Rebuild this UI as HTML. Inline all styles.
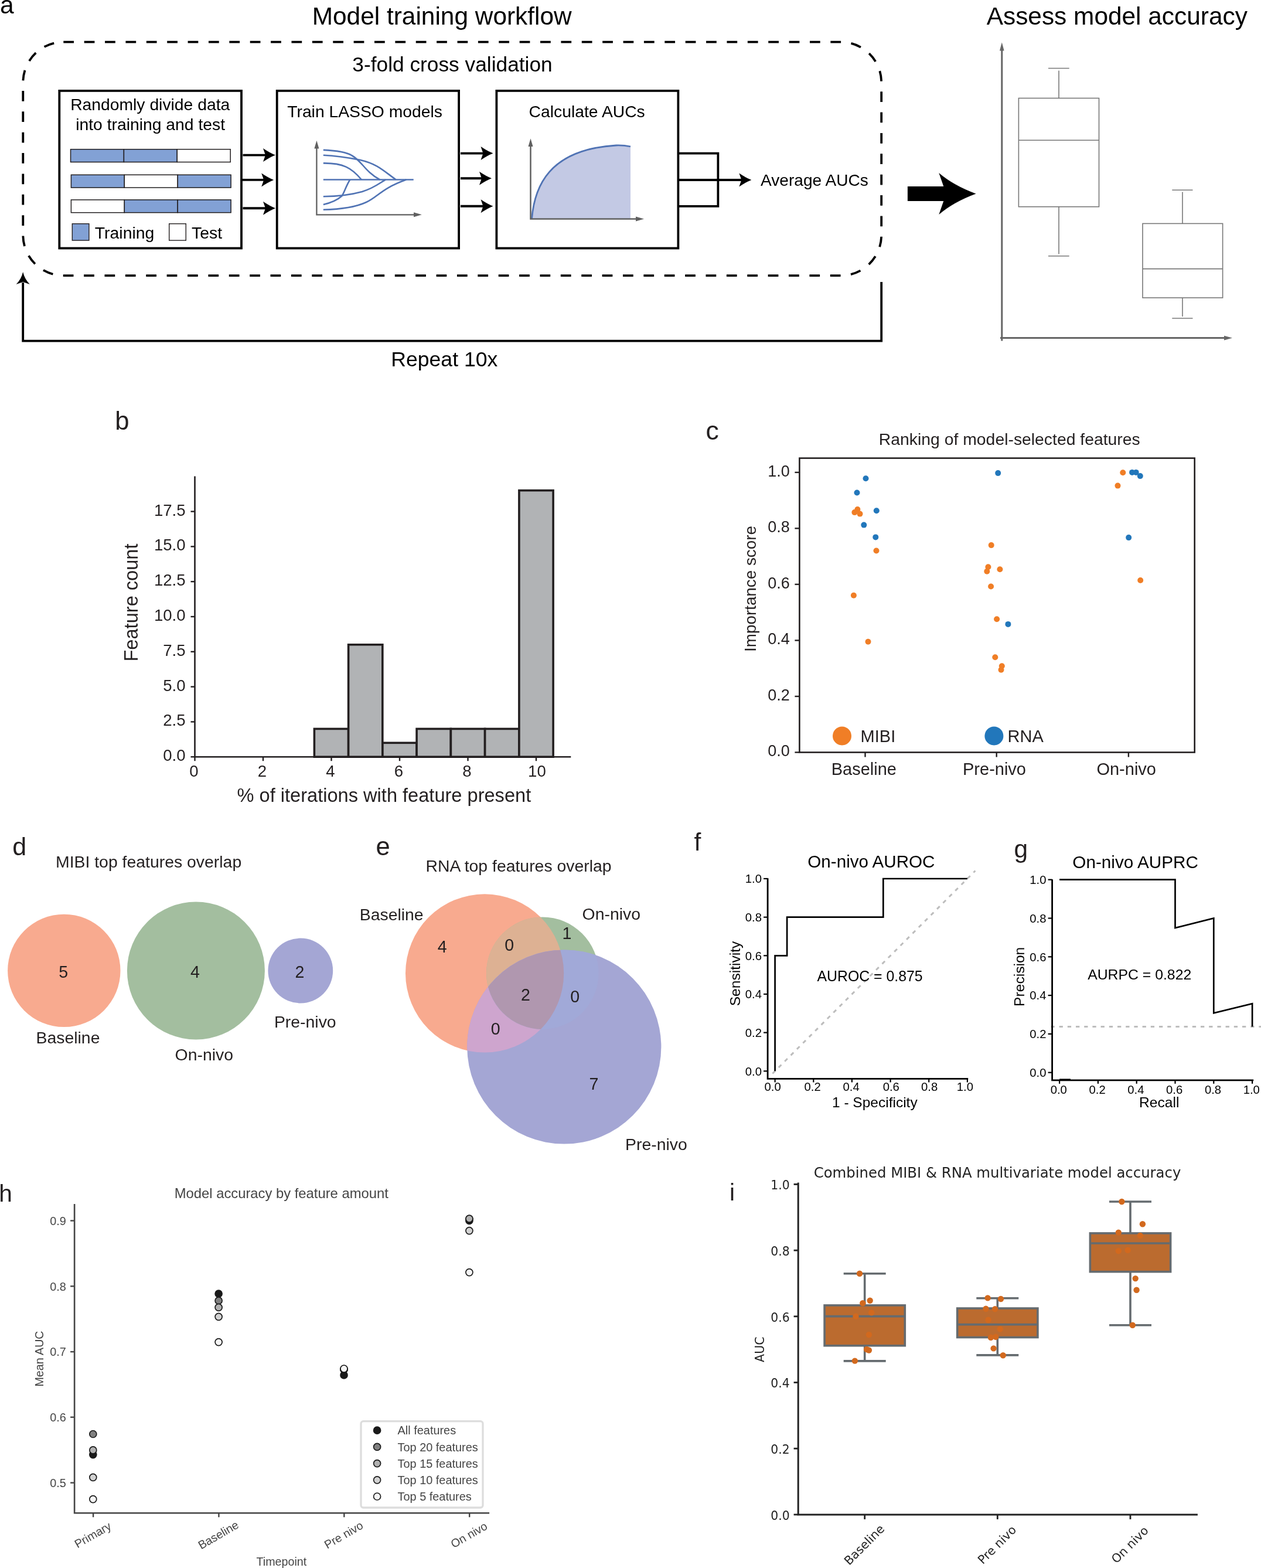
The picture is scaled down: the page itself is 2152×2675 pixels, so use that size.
<!DOCTYPE html>
<html lang="en">
<head>
<meta charset="utf-8">
<title>Model training workflow and accuracy figure</title>
<style>
html, body { margin: 0; padding: 0; background: #ffffff; }
body { width: 2152px; height: 2675px; overflow: hidden; }
svg { display: block; font-family: "Liberation Sans", sans-serif; }
</style>
</head>
<body>
<svg role="img" aria-label="Model training workflow, feature ranking, feature overlap and model accuracy figure" width="2152" height="2675" viewBox="0 0 2152 2675">
<rect width="2152" height="2675" fill="#ffffff"/>
<g id="panel-a">
<text x="0.0" y="23.2" font-size="42.5">a</text>
<text x="754.2" y="42.0" font-size="42.4" text-anchor="middle">Model training workflow</text>
<text x="1906.3" y="42.0" font-size="42.4" text-anchor="middle">Assess model accuracy</text>
<path d="M108.3 71.7 H1435.2 A69 69 0 0 1 1504.2 140.7 V401.1 A69 69 0 0 1 1435.2 470.1 H108.3 A69 69 0 0 1 39.3 401.1 V140.7 A69 69 0 0 1 108.3 71.7Z" fill="none" stroke="#000" stroke-width="3.8" stroke-dasharray="17.75 17.63"/>
<text x="772.0" y="121.5" font-size="35.3" text-anchor="middle">3-fold cross validation</text>
<rect x="101.3" y="154.9" width="310.7" height="268.6" fill="none" stroke="#000" stroke-width="3.8"/>
<rect x="472.7" y="154.9" width="310.4" height="268.6" fill="none" stroke="#000" stroke-width="3.8"/>
<rect x="847.4" y="154.9" width="310.0" height="268.6" fill="none" stroke="#000" stroke-width="3.8"/>
<text x="256.2" y="188.4" font-size="28.3" text-anchor="middle">Randomly divide data</text>
<text x="256.6" y="222.0" font-size="28.3" text-anchor="middle">into training and test</text>
<rect x="120.5" y="254.7" width="90.9" height="21.8" fill="#82a1d5" stroke="#231f20" stroke-width="1.5"/>
<rect x="211.4" y="254.7" width="90.9" height="21.8" fill="#82a1d5" stroke="#231f20" stroke-width="1.5"/>
<rect x="302.3" y="254.7" width="90.9" height="21.8" fill="#fff" stroke="#231f20" stroke-width="1.5"/>
<rect x="121.4" y="298.3" width="90.9" height="21.8" fill="#82a1d5" stroke="#231f20" stroke-width="1.5"/>
<rect x="212.3" y="298.3" width="90.9" height="21.8" fill="#fff" stroke="#231f20" stroke-width="1.5"/>
<rect x="303.2" y="298.3" width="90.9" height="21.8" fill="#82a1d5" stroke="#231f20" stroke-width="1.5"/>
<rect x="121.4" y="340.9" width="90.9" height="21.8" fill="#fff" stroke="#231f20" stroke-width="1.5"/>
<rect x="212.3" y="340.9" width="90.9" height="21.8" fill="#82a1d5" stroke="#231f20" stroke-width="1.5"/>
<rect x="303.2" y="340.9" width="90.9" height="21.8" fill="#82a1d5" stroke="#231f20" stroke-width="1.5"/>
<rect x="123.3" y="381.7" width="28.6" height="28.4" fill="#82a1d5" stroke="#231f20" stroke-width="1.4"/>
<text x="161.8" y="407.4" font-size="28.4">Training</text>
<rect x="288.7" y="381.7" width="28.6" height="28.4" fill="#fff" stroke="#231f20" stroke-width="1.4"/>
<text x="327.0" y="407.4" font-size="28.4">Test</text>
<line x1="414.5" y1="264.6" x2="454.0" y2="264.6" stroke="#000" stroke-width="3.9"/>
<path d="M470.0 264.6 Q460.6 260.9 449.0 253.1 L453.0 264.6 L449.0 276.1 Q460.6 268.3 470.0 264.6Z" fill="#000"/>
<line x1="412.0" y1="306.9" x2="451.2" y2="306.9" stroke="#000" stroke-width="3.9"/>
<path d="M467.2 306.9 Q457.8 303.2 446.2 295.4 L450.2 306.9 L446.2 318.4 Q457.8 310.6 467.2 306.9Z" fill="#000"/>
<line x1="414.5" y1="355.2" x2="454.0" y2="355.2" stroke="#000" stroke-width="3.9"/>
<path d="M470.0 355.2 Q460.6 351.5 449.0 343.7 L453.0 355.2 L449.0 366.7 Q460.6 358.9 470.0 355.2Z" fill="#000"/>
<text x="622.6" y="200.4" font-size="28.3" text-anchor="middle">Train LASSO models</text>
<path d="M540.4 252 V366.3 H706" fill="none" stroke="#606060" stroke-width="2.3"/>
<path d="M540.4 239.8 L544.4 253.5 H536.4Z" fill="#606060"/>
<path d="M719.8 366.3 L706 370.3 V362.3Z" fill="#606060"/>
<path d="M551.8 306.5 H705.7" fill="none" stroke="#5073b4" stroke-width="2.6"/>
<path d="M551.8 255.9 C575 257 592 260 600 265 C618 275 622 292 648.2 306.5" fill="none" stroke="#5073b4" stroke-width="2.6"/>
<path d="M551.8 264.7 C580 266 600 270 615 273 C645 280 655 292 675.7 306.5" fill="none" stroke="#5073b4" stroke-width="2.6"/>
<path d="M551.8 278.4 C585 278 600 286 616.9 306.5" fill="none" stroke="#5073b4" stroke-width="2.6"/>
<path d="M597.3 306.5 C590 318 588 328 583.5 334.3 C575 342 565 346 551.8 349" fill="none" stroke="#5073b4" stroke-width="2.6"/>
<path d="M551.8 335.3 C580 335 600 332 618 327 C640 320 648 312 658 306.5" fill="none" stroke="#5073b4" stroke-width="2.6"/>
<path d="M551.8 357.8 C585 357 610 352 625 345 C645 336 650 322 693.3 306.5" fill="none" stroke="#5073b4" stroke-width="2.6"/>
<line x1="786.0" y1="261.6" x2="825.5" y2="261.6" stroke="#000" stroke-width="3.9"/>
<path d="M841.5 261.6 Q832.0 257.9 820.5 250.1 L824.5 261.6 L820.5 273.1 Q832.0 265.3 841.5 261.6Z" fill="#000"/>
<line x1="786.0" y1="304.3" x2="823.0" y2="304.3" stroke="#000" stroke-width="3.9"/>
<path d="M839.0 304.3 Q829.5 300.6 818.0 292.8 L822.0 304.3 L818.0 315.8 Q829.5 308.0 839.0 304.3Z" fill="#000"/>
<line x1="786.0" y1="351.8" x2="825.5" y2="351.8" stroke="#000" stroke-width="3.9"/>
<path d="M841.5 351.8 Q832.0 348.1 820.5 340.3 L824.5 351.8 L820.5 363.3 Q832.0 355.5 841.5 351.8Z" fill="#000"/>
<text x="1001.7" y="200.4" font-size="28.3" text-anchor="middle">Calculate AUCs</text>
<path d="M907.5 373.5 C912 320 935 255 1051.6 248 Q1064 247.6 1076 250 V373.5Z" fill="#c3c9e4"/>
<path d="M907.5 373.5 C912 320 935 255 1051.6 248 Q1064 247.6 1076 250" fill="none" stroke="#5073b4" stroke-width="2.8"/>
<path d="M905.5 249 V373.5 H1086" fill="none" stroke="#606060" stroke-width="2.5"/>
<path d="M905.5 236.3 L909.5 250 H901.5Z" fill="#606060"/>
<path d="M1099 373.5 L1085 377.5 V369.5Z" fill="#606060"/>
<path d="M1157.4 261.6 H1225.4 V351.8 H1157.4" fill="none" stroke="#000" stroke-width="3.8"/>
<line x1="1157.4" y1="307.0" x2="1266.4" y2="307.0" stroke="#000" stroke-width="3.9"/>
<path d="M1282.4 307.0 Q1273.0 303.3 1261.4 295.5 L1265.4 307.0 L1261.4 318.5 Q1273.0 310.7 1282.4 307.0Z" fill="#000"/>
<text x="1389.9" y="316.7" font-size="28.1" text-anchor="middle">Average AUCs</text>
<path d="M1504.2 481 V581.6 H39.2 V482" fill="none" stroke="#000" stroke-width="3.8"/>
<path d="M39.2 464 Q42 476 50.7 485 L39.2 481 L27.7 485 Q36.4 476 39.2 464Z" fill="#000"/>
<text x="758.3" y="625.0" font-size="35.6" text-anchor="middle">Repeat 10x</text>
<path d="M1548.9 318 H1610.3 L1602.3 294.9 Q1626.9 316.1 1665.6 330.4 Q1626.9 344.7 1602.3 366 L1610.3 342.9 H1548.9Z" fill="#000"/>
<path d="M1709.8 86 V581.6" fill="none" stroke="#666" stroke-width="3"/>
<path d="M1709.8 72.3 L1713.6 86.5 H1706Z" fill="#666"/>
<path d="M1707 576.6 H2090" fill="none" stroke="#666" stroke-width="3"/>
<path d="M2103 576.6 L2089 580.4 V572.8Z" fill="#666"/>
<rect x="1738.4" y="167.5" width="137.1" height="185.2" fill="none" stroke="#777" stroke-width="1.6"/>
<line x1="1738.4" y1="239.2" x2="1875.5" y2="239.2" stroke="#777" stroke-width="1.6"/>
<line x1="1807.0" y1="120.5" x2="1807.0" y2="167.5" stroke="#777" stroke-width="1.6"/>
<line x1="1789.0" y1="116.5" x2="1824.7" y2="116.5" stroke="#777" stroke-width="1.6"/>
<line x1="1807.0" y1="352.7" x2="1807.0" y2="433.5" stroke="#777" stroke-width="1.6"/>
<line x1="1789.0" y1="436.8" x2="1824.7" y2="436.8" stroke="#777" stroke-width="1.6"/>
<rect x="1950.0" y="381.4" width="136.6" height="126.6" fill="none" stroke="#777" stroke-width="1.6"/>
<line x1="1950.0" y1="458.6" x2="2086.6" y2="458.6" stroke="#777" stroke-width="1.6"/>
<line x1="2018.0" y1="327.5" x2="2018.0" y2="381.4" stroke="#777" stroke-width="1.6"/>
<line x1="2000.3" y1="324.2" x2="2035.5" y2="324.2" stroke="#777" stroke-width="1.6"/>
<line x1="2018.0" y1="508.0" x2="2018.0" y2="540.0" stroke="#777" stroke-width="1.6"/>
<line x1="2000.3" y1="543.0" x2="2035.5" y2="543.0" stroke="#777" stroke-width="1.6"/>
</g>
<g id="panel-b">
<text x="196.3" y="733.2" font-size="43.6" fill="#231f20">b</text>
<rect x="536.4" y="1243.4" width="58.2" height="47.8" fill="#b1b3b5" stroke="#231f20" stroke-width="3.6"/>
<rect x="594.6" y="1099.8" width="58.2" height="191.4" fill="#b1b3b5" stroke="#231f20" stroke-width="3.6"/>
<rect x="652.9" y="1267.3" width="58.2" height="23.9" fill="#b1b3b5" stroke="#231f20" stroke-width="3.6"/>
<rect x="711.1" y="1243.4" width="58.2" height="47.8" fill="#b1b3b5" stroke="#231f20" stroke-width="3.6"/>
<rect x="769.4" y="1243.4" width="58.2" height="47.8" fill="#b1b3b5" stroke="#231f20" stroke-width="3.6"/>
<rect x="827.6" y="1243.4" width="58.2" height="47.8" fill="#b1b3b5" stroke="#231f20" stroke-width="3.6"/>
<rect x="885.9" y="836.7" width="58.2" height="454.5" fill="#b1b3b5" stroke="#231f20" stroke-width="3.6"/>
<path d="M332.5 812.6 V1291.2 H974.3" fill="none" stroke="#231f20" stroke-width="2.6" stroke-linejoin="miter"/>
<line x1="325.5" y1="1291.2" x2="332.5" y2="1291.2" stroke="#231f20" stroke-width="2.4"/>
<text x="316.6" y="1298.1" font-size="27.6" text-anchor="end" fill="#231f20">0.0</text>
<line x1="325.5" y1="1231.4" x2="332.5" y2="1231.4" stroke="#231f20" stroke-width="2.4"/>
<text x="316.6" y="1238.3" font-size="27.6" text-anchor="end" fill="#231f20">2.5</text>
<line x1="325.5" y1="1171.6" x2="332.5" y2="1171.6" stroke="#231f20" stroke-width="2.4"/>
<text x="316.6" y="1178.5" font-size="27.6" text-anchor="end" fill="#231f20">5.0</text>
<line x1="325.5" y1="1111.8" x2="332.5" y2="1111.8" stroke="#231f20" stroke-width="2.4"/>
<text x="316.6" y="1118.7" font-size="27.6" text-anchor="end" fill="#231f20">7.5</text>
<line x1="325.5" y1="1052.0" x2="332.5" y2="1052.0" stroke="#231f20" stroke-width="2.4"/>
<text x="316.6" y="1058.9" font-size="27.6" text-anchor="end" fill="#231f20">10.0</text>
<line x1="325.5" y1="992.2" x2="332.5" y2="992.2" stroke="#231f20" stroke-width="2.4"/>
<text x="316.6" y="999.1" font-size="27.6" text-anchor="end" fill="#231f20">12.5</text>
<line x1="325.5" y1="932.4" x2="332.5" y2="932.4" stroke="#231f20" stroke-width="2.4"/>
<text x="316.6" y="939.3" font-size="27.6" text-anchor="end" fill="#231f20">15.0</text>
<line x1="325.5" y1="872.6" x2="332.5" y2="872.6" stroke="#231f20" stroke-width="2.4"/>
<text x="316.6" y="879.5" font-size="27.6" text-anchor="end" fill="#231f20">17.5</text>
<line x1="332.5" y1="1291.2" x2="332.5" y2="1298.2" stroke="#231f20" stroke-width="2.4"/>
<text x="331.0" y="1324.8" font-size="27.6" text-anchor="middle" fill="#231f20">0</text>
<line x1="449.0" y1="1291.2" x2="449.0" y2="1298.2" stroke="#231f20" stroke-width="2.4"/>
<text x="447.5" y="1324.8" font-size="27.6" text-anchor="middle" fill="#231f20">2</text>
<line x1="565.5" y1="1291.2" x2="565.5" y2="1298.2" stroke="#231f20" stroke-width="2.4"/>
<text x="564.0" y="1324.8" font-size="27.6" text-anchor="middle" fill="#231f20">4</text>
<line x1="682.0" y1="1291.2" x2="682.0" y2="1298.2" stroke="#231f20" stroke-width="2.4"/>
<text x="680.5" y="1324.8" font-size="27.6" text-anchor="middle" fill="#231f20">6</text>
<line x1="798.5" y1="1291.2" x2="798.5" y2="1298.2" stroke="#231f20" stroke-width="2.4"/>
<text x="797.0" y="1324.8" font-size="27.6" text-anchor="middle" fill="#231f20">8</text>
<line x1="915.0" y1="1291.2" x2="915.0" y2="1298.2" stroke="#231f20" stroke-width="2.4"/>
<text x="916.4" y="1324.8" font-size="27.6" text-anchor="middle" fill="#231f20">10</text>
<text x="655.4" y="1367.5" font-size="32.6" text-anchor="middle" fill="#231f20">% of iterations with feature present</text>
<text x="234.7" y="1028.0" font-size="32.6" text-anchor="middle" fill="#231f20" transform="rotate(-90 234.7 1028.0)">Feature count</text>
</g>
<g id="panel-c">
<text x="1204.6" y="750.0" font-size="44.5" fill="#231f20">c</text>
<text x="1722.8" y="759.2" font-size="28.35" text-anchor="middle" fill="#231f20">Ranking of model-selected features</text>
<rect x="1364.4" y="781.6" width="674.3" height="501.9" fill="none" stroke="#231f20" stroke-width="2.6"/>
<line x1="1356.4" y1="1283.5" x2="1364.4" y2="1283.5" stroke="#231f20" stroke-width="2.4"/>
<text x="1347.8" y="1290.4" font-size="27" text-anchor="end" fill="#231f20">0.0</text>
<line x1="1356.4" y1="1188.0" x2="1364.4" y2="1188.0" stroke="#231f20" stroke-width="2.4"/>
<text x="1347.8" y="1194.9" font-size="27" text-anchor="end" fill="#231f20">0.2</text>
<line x1="1356.4" y1="1092.5" x2="1364.4" y2="1092.5" stroke="#231f20" stroke-width="2.4"/>
<text x="1347.8" y="1099.4" font-size="27" text-anchor="end" fill="#231f20">0.4</text>
<line x1="1356.4" y1="996.9" x2="1364.4" y2="996.9" stroke="#231f20" stroke-width="2.4"/>
<text x="1347.8" y="1003.8" font-size="27" text-anchor="end" fill="#231f20">0.6</text>
<line x1="1356.4" y1="901.4" x2="1364.4" y2="901.4" stroke="#231f20" stroke-width="2.4"/>
<text x="1347.8" y="908.3" font-size="27" text-anchor="end" fill="#231f20">0.8</text>
<line x1="1356.4" y1="805.9" x2="1364.4" y2="805.9" stroke="#231f20" stroke-width="2.4"/>
<text x="1347.8" y="812.8" font-size="27" text-anchor="end" fill="#231f20">1.0</text>
<line x1="1476.5" y1="1283.5" x2="1476.5" y2="1291.5" stroke="#231f20" stroke-width="2.4"/>
<text x="1474.3" y="1321.8" font-size="29" text-anchor="middle" fill="#231f20">Baseline</text>
<line x1="1700.7" y1="1283.5" x2="1700.7" y2="1291.5" stroke="#231f20" stroke-width="2.4"/>
<text x="1697.0" y="1321.8" font-size="29" text-anchor="middle" fill="#231f20">Pre-nivo</text>
<line x1="1925.9" y1="1283.5" x2="1925.9" y2="1291.5" stroke="#231f20" stroke-width="2.4"/>
<text x="1922.2" y="1321.8" font-size="29" text-anchor="middle" fill="#231f20">On-nivo</text>
<text x="1290.3" y="1004.5" font-size="27.8" text-anchor="middle" fill="#231f20" transform="rotate(-90 1290.3 1004.5)">Importance score</text>
<circle cx="1477.5" cy="816.2" r="5" fill="#2277bb"/>
<circle cx="1462.5" cy="840.5" r="5" fill="#2277bb"/>
<circle cx="1463.4" cy="869.1" r="5" fill="#f07e26"/>
<circle cx="1458.4" cy="874.1" r="5" fill="#f07e26"/>
<circle cx="1467.5" cy="876.6" r="5" fill="#f07e26"/>
<circle cx="1495.8" cy="871.3" r="5" fill="#2277bb"/>
<circle cx="1474.3" cy="895.6" r="5" fill="#2277bb"/>
<circle cx="1494.3" cy="916.4" r="5" fill="#2277bb"/>
<circle cx="1495.5" cy="939.5" r="5" fill="#f07e26"/>
<circle cx="1456.9" cy="1015.8" r="5" fill="#f07e26"/>
<circle cx="1481.5" cy="1094.8" r="5" fill="#f07e26"/>
<circle cx="1703.2" cy="807.1" r="5" fill="#2277bb"/>
<circle cx="1691.7" cy="930.1" r="5" fill="#f07e26"/>
<circle cx="1686.4" cy="967.2" r="5" fill="#f07e26"/>
<circle cx="1684.3" cy="974.7" r="5" fill="#f07e26"/>
<circle cx="1706.4" cy="971.3" r="5" fill="#f07e26"/>
<circle cx="1691.1" cy="1000.5" r="5" fill="#f07e26"/>
<circle cx="1701.1" cy="1056.2" r="5" fill="#f07e26"/>
<circle cx="1720.4" cy="1064.9" r="5" fill="#2277bb"/>
<circle cx="1698.3" cy="1121.3" r="5" fill="#f07e26"/>
<circle cx="1709.8" cy="1136.2" r="5" fill="#f07e26"/>
<circle cx="1708.5" cy="1142.8" r="5" fill="#f07e26"/>
<circle cx="1916.3" cy="806.2" r="5" fill="#f07e26"/>
<circle cx="1932.1" cy="805.9" r="5" fill="#2277bb"/>
<circle cx="1938.7" cy="805.9" r="5" fill="#2277bb"/>
<circle cx="1945.8" cy="812.1" r="5" fill="#2277bb"/>
<circle cx="1907.5" cy="828.6" r="5" fill="#f07e26"/>
<circle cx="1926.2" cy="917.1" r="5" fill="#2277bb"/>
<circle cx="1946.2" cy="990.0" r="5" fill="#f07e26"/>
<circle cx="1437.0" cy="1255.5" r="16" fill="#f07e26"/>
<text x="1468.6" y="1265.8" font-size="29" fill="#231f20">MIBI</text>
<circle cx="1696.4" cy="1255.5" r="16" fill="#2277bb"/>
<text x="1719.6" y="1265.8" font-size="29" fill="#231f20">RNA</text>
</g>
<g id="panel-d">
<text x="21.2" y="1459.0" font-size="43" fill="#231f20">d</text>
<text x="253.6" y="1480.3" font-size="28.4" text-anchor="middle" fill="#231f20">MIBI top features overlap</text>
<circle cx="109.3" cy="1655.9" r="96.2" fill="#f8aa8f"/>
<circle cx="334.4" cy="1656.0" r="117.5" fill="#a3be9f"/>
<circle cx="512.8" cy="1656.0" r="55.4" fill="#a4a6d4"/>
<text x="108.3" y="1668.2" font-size="28.6" text-anchor="middle" fill="#231f20">5</text>
<text x="332.9" y="1668.2" font-size="28.6" text-anchor="middle" fill="#231f20">4</text>
<text x="511.4" y="1668.2" font-size="28.6" text-anchor="middle" fill="#231f20">2</text>
<text x="116.0" y="1780.0" font-size="28.4" text-anchor="middle" fill="#231f20">Baseline</text>
<text x="348.3" y="1809.3" font-size="28.4" text-anchor="middle" fill="#231f20">On-nivo</text>
<text x="520.8" y="1753.0" font-size="28.4" text-anchor="middle" fill="#231f20">Pre-nivo</text>
</g>
<g id="panel-e">
<text x="641.5" y="1459.0" font-size="43.5" fill="#231f20">e</text>
<text x="885.0" y="1486.5" font-size="28.4" text-anchor="middle" fill="#231f20">RNA top features overlap</text>
<defs><clipPath id="cA"><circle cx="827.1" cy="1660.4" r="135.1"/></clipPath><clipPath id="cG"><circle cx="925.8" cy="1660.2" r="95.7"/></clipPath><clipPath id="cP"><circle cx="962.8" cy="1786" r="165.6"/></clipPath></defs>
<circle cx="827.1" cy="1660.4" r="135.1" fill="#f8aa8f"/>
<circle cx="925.8" cy="1660.2" r="95.7" fill="#a3be9f"/>
<circle cx="962.8" cy="1786.0" r="165.6" fill="#a4a6d4"/>
<circle cx="925.8" cy="1660.2" r="95.7" fill="#ddb193" clip-path="url(#cA)"/>
<circle cx="962.8" cy="1786.0" r="165.6" fill="#cea5ce" clip-path="url(#cA)"/>
<circle cx="962.8" cy="1786.0" r="165.6" fill="#a1a9d8" clip-path="url(#cG)"/>
<g clip-path="url(#cA)"><circle cx="962.8" cy="1786.0" r="165.6" fill="#b097af" clip-path="url(#cG)"/></g>
<text x="754.7" y="1625.0" font-size="28.6" text-anchor="middle" fill="#231f20">4</text>
<text x="869.2" y="1621.5" font-size="28.6" text-anchor="middle" fill="#231f20">0</text>
<text x="967.5" y="1602.4" font-size="28.6" text-anchor="middle" fill="#231f20">1</text>
<text x="896.9" y="1707.0" font-size="28.6" text-anchor="middle" fill="#231f20">2</text>
<text x="981.3" y="1709.7" font-size="28.6" text-anchor="middle" fill="#231f20">0</text>
<text x="845.7" y="1765.0" font-size="28.6" text-anchor="middle" fill="#231f20">0</text>
<text x="1013.5" y="1859.2" font-size="28.6" text-anchor="middle" fill="#231f20">7</text>
<text x="668.2" y="1570.2" font-size="28.4" text-anchor="middle" fill="#231f20">Baseline</text>
<text x="1043.3" y="1568.5" font-size="28.4" text-anchor="middle" fill="#231f20">On-nivo</text>
<text x="1119.9" y="1962.3" font-size="28.4" text-anchor="middle" fill="#231f20">Pre-nivo</text>
</g>
<g id="panel-f">
<text x="1184.5" y="1451.1" font-size="42.5" fill="#231f20">f</text>
<text x="1486.9" y="1480.2" font-size="29.6" text-anchor="middle">On-nivo AUROC</text>
<path d="M1318.4 1831.5 L1664.4 1485.5" fill="none" stroke="#bdbdbd" stroke-width="3" stroke-dasharray="6.6 8.1"/>
<path d="M1310.1 1498.3 V1840.4 H1652.2" fill="none" stroke="#000" stroke-width="2.8"/>
<line x1="1303.1" y1="1827.3" x2="1310.1" y2="1827.3" stroke="#000" stroke-width="2.2"/>
<text x="1300.0" y="1834.6" font-size="20.3" text-anchor="end">0.0</text>
<line x1="1322.6" y1="1840.4" x2="1322.6" y2="1846.4" stroke="#000" stroke-width="2.2"/>
<text x="1318.6" y="1860.7" font-size="20.3" text-anchor="middle">0.0</text>
<line x1="1303.1" y1="1761.6" x2="1310.1" y2="1761.6" stroke="#000" stroke-width="2.2"/>
<text x="1300.0" y="1768.9" font-size="20.3" text-anchor="end">0.2</text>
<line x1="1388.3" y1="1840.4" x2="1388.3" y2="1846.4" stroke="#000" stroke-width="2.2"/>
<text x="1386.7" y="1860.7" font-size="20.3" text-anchor="middle">0.2</text>
<line x1="1303.1" y1="1696.0" x2="1310.1" y2="1696.0" stroke="#000" stroke-width="2.2"/>
<text x="1300.0" y="1703.3" font-size="20.3" text-anchor="end">0.4</text>
<line x1="1453.9" y1="1840.4" x2="1453.9" y2="1846.4" stroke="#000" stroke-width="2.2"/>
<text x="1452.7" y="1860.7" font-size="20.3" text-anchor="middle">0.4</text>
<line x1="1303.1" y1="1630.3" x2="1310.1" y2="1630.3" stroke="#000" stroke-width="2.2"/>
<text x="1300.0" y="1637.6" font-size="20.3" text-anchor="end">0.6</text>
<line x1="1519.6" y1="1840.4" x2="1519.6" y2="1846.4" stroke="#000" stroke-width="2.2"/>
<text x="1520.8" y="1860.7" font-size="20.3" text-anchor="middle">0.6</text>
<line x1="1303.1" y1="1564.7" x2="1310.1" y2="1564.7" stroke="#000" stroke-width="2.2"/>
<text x="1300.0" y="1572.0" font-size="20.3" text-anchor="end">0.8</text>
<line x1="1585.2" y1="1840.4" x2="1585.2" y2="1846.4" stroke="#000" stroke-width="2.2"/>
<text x="1586.2" y="1860.7" font-size="20.3" text-anchor="middle">0.8</text>
<line x1="1303.1" y1="1499.0" x2="1310.1" y2="1499.0" stroke="#000" stroke-width="2.2"/>
<text x="1300.0" y="1506.3" font-size="20.3" text-anchor="end">1.0</text>
<line x1="1650.9" y1="1840.4" x2="1650.9" y2="1846.4" stroke="#000" stroke-width="2.2"/>
<text x="1646.9" y="1860.7" font-size="20.3" text-anchor="middle">1.0</text>
<path d="M1322.6 1827.3 L1322.6 1630.3 L1343.1 1630.3 L1343.1 1564.7 L1507.3 1564.7 L1507.3 1499.0 L1650.9 1499.0" fill="none" stroke="#000" stroke-width="2.7" stroke-linejoin="miter"/>
<text x="1484.6" y="1673.8" font-size="24.85" text-anchor="middle">AUROC = 0.875</text>
<text x="1492.8" y="1888.7" font-size="24.5" text-anchor="middle">1 - Specificity</text>
<text x="1262.8" y="1661.0" font-size="24.6" text-anchor="middle" transform="rotate(-90 1262.8 1661.0)">Sensitivity</text>
</g>
<g id="panel-g">
<text x="1730.5" y="1462.6" font-size="42.5" fill="#231f20">g</text>
<text x="1937.6" y="1480.8" font-size="29.7" text-anchor="middle">On-nivo AUPRC</text>
<path d="M1793.3999999999999 1751.4 H2152" fill="none" stroke="#bdbdbd" stroke-width="3" stroke-dasharray="6.3 7.9"/>
<path d="M1795.6 1500.3 V1842.8 H2139.2" fill="none" stroke="#000" stroke-width="2.8"/>
<line x1="1788.6" y1="1829.7" x2="1795.6" y2="1829.7" stroke="#000" stroke-width="2.2"/>
<text x="1785.5" y="1837.0" font-size="20.3" text-anchor="end">0.0</text>
<line x1="1808.1" y1="1842.8" x2="1808.1" y2="1848.8" stroke="#000" stroke-width="2.2"/>
<text x="1806.8" y="1865.5" font-size="20.3" text-anchor="middle">0.0</text>
<line x1="1788.6" y1="1763.9" x2="1795.6" y2="1763.9" stroke="#000" stroke-width="2.2"/>
<text x="1785.5" y="1771.2" font-size="20.3" text-anchor="end">0.2</text>
<line x1="1873.9" y1="1842.8" x2="1873.9" y2="1848.8" stroke="#000" stroke-width="2.2"/>
<text x="1872.6" y="1865.5" font-size="20.3" text-anchor="middle">0.2</text>
<line x1="1788.6" y1="1698.1" x2="1795.6" y2="1698.1" stroke="#000" stroke-width="2.2"/>
<text x="1785.5" y="1705.4" font-size="20.3" text-anchor="end">0.4</text>
<line x1="1939.7" y1="1842.8" x2="1939.7" y2="1848.8" stroke="#000" stroke-width="2.2"/>
<text x="1938.4" y="1865.5" font-size="20.3" text-anchor="middle">0.4</text>
<line x1="1788.6" y1="1632.3" x2="1795.6" y2="1632.3" stroke="#000" stroke-width="2.2"/>
<text x="1785.5" y="1639.6" font-size="20.3" text-anchor="end">0.6</text>
<line x1="2005.5" y1="1842.8" x2="2005.5" y2="1848.8" stroke="#000" stroke-width="2.2"/>
<text x="2004.2" y="1865.5" font-size="20.3" text-anchor="middle">0.6</text>
<line x1="1788.6" y1="1566.5" x2="1795.6" y2="1566.5" stroke="#000" stroke-width="2.2"/>
<text x="1785.5" y="1573.8" font-size="20.3" text-anchor="end">0.8</text>
<line x1="2071.3" y1="1842.8" x2="2071.3" y2="1848.8" stroke="#000" stroke-width="2.2"/>
<text x="2070.0" y="1865.5" font-size="20.3" text-anchor="middle">0.8</text>
<line x1="1788.6" y1="1500.7" x2="1795.6" y2="1500.7" stroke="#000" stroke-width="2.2"/>
<text x="1785.5" y="1508.0" font-size="20.3" text-anchor="end">1.0</text>
<line x1="2137.1" y1="1842.8" x2="2137.1" y2="1848.8" stroke="#000" stroke-width="2.2"/>
<text x="2135.8" y="1865.5" font-size="20.3" text-anchor="middle">1.0</text>
<path d="M1808.1 1500.7 L2005.5 1500.7 L2005.5 1583.0 L2071.3 1566.5 L2071.3 1728.4 L2137.1 1712.2 L2137.1 1751.4" fill="none" stroke="#000" stroke-width="2.7" stroke-linejoin="miter"/>
<path d="M1808.1 1841.6 H1827" fill="none" stroke="#000" stroke-width="2.4"/>
<text x="1944.7" y="1671.1" font-size="24.8" text-anchor="middle">AURPC = 0.822</text>
<text x="1978.2" y="1888.8" font-size="24.6" text-anchor="middle">Recall</text>
<text x="1748.5" y="1666.3" font-size="24.6" text-anchor="middle" transform="rotate(-90 1748.5 1666.3)">Precision</text>
</g>
<g id="panel-h">
<text x="-1.8" y="2049.7" font-size="40.6" fill="#231f20">h</text>
<text x="480.3" y="2043.6" font-size="23.8" text-anchor="middle" fill="#444">Model accuracy by feature amount</text>
<path d="M127.1 2055.4 V2581.3 H833.8" fill="none" stroke="#444" stroke-width="2.6" stroke-linecap="square"/>
<line x1="120.1" y1="2082.5" x2="127.1" y2="2082.5" stroke="#444" stroke-width="2.4"/>
<g transform="translate(112.8 2089.7) scale(0.975 1)"><text x="0.0" y="0.0" font-size="20.3" text-anchor="end" fill="#444">0.9</text></g>
<line x1="120.1" y1="2194.3" x2="127.1" y2="2194.3" stroke="#444" stroke-width="2.4"/>
<g transform="translate(112.8 2201.5) scale(0.975 1)"><text x="0.0" y="0.0" font-size="20.3" text-anchor="end" fill="#444">0.8</text></g>
<line x1="120.1" y1="2306.1" x2="127.1" y2="2306.1" stroke="#444" stroke-width="2.4"/>
<g transform="translate(112.8 2313.3) scale(0.975 1)"><text x="0.0" y="0.0" font-size="20.3" text-anchor="end" fill="#444">0.7</text></g>
<line x1="120.1" y1="2417.7" x2="127.1" y2="2417.7" stroke="#444" stroke-width="2.4"/>
<g transform="translate(112.8 2424.9) scale(0.975 1)"><text x="0.0" y="0.0" font-size="20.3" text-anchor="end" fill="#444">0.6</text></g>
<line x1="120.1" y1="2529.6" x2="127.1" y2="2529.6" stroke="#444" stroke-width="2.4"/>
<g transform="translate(112.8 2536.8) scale(0.975 1)"><text x="0.0" y="0.0" font-size="20.3" text-anchor="end" fill="#444">0.5</text></g>
<line x1="159.1" y1="2581.3" x2="159.1" y2="2588.3" stroke="#444" stroke-width="2.4"/>
<text x="161.7" y="2624.5" font-size="19.8" text-anchor="middle" fill="#444" transform="rotate(-30 161.7 2624.5)">Primary</text>
<line x1="373.4" y1="2581.3" x2="373.4" y2="2588.3" stroke="#444" stroke-width="2.4"/>
<text x="376.0" y="2624.5" font-size="19.8" text-anchor="middle" fill="#444" transform="rotate(-30 376.0 2624.5)">Baseline</text>
<line x1="587.3" y1="2581.3" x2="587.3" y2="2588.3" stroke="#444" stroke-width="2.4"/>
<text x="589.9" y="2624.5" font-size="19.8" text-anchor="middle" fill="#444" transform="rotate(-30 589.9 2624.5)">Pre nivo</text>
<line x1="801.2" y1="2581.3" x2="801.2" y2="2588.3" stroke="#444" stroke-width="2.4"/>
<text x="803.8" y="2624.5" font-size="19.8" text-anchor="middle" fill="#444" transform="rotate(-30 803.8 2624.5)">On nivo</text>
<text x="480.4" y="2671.3" font-size="19.7" text-anchor="middle" fill="#444">Timepoint</text>
<text x="74.1" y="2318.0" font-size="19.7" text-anchor="middle" fill="#444" transform="rotate(-90 74.1 2318.0)">Mean AUC</text>
<circle cx="158.8" cy="2481.6" r="6" fill="#1a1a1a" stroke="#1a1a1a" stroke-width="1.7"/>
<circle cx="373.1" cy="2207.1" r="6" fill="#1a1a1a" stroke="#1a1a1a" stroke-width="1.7"/>
<circle cx="587.0" cy="2345.9" r="6" fill="#1a1a1a" stroke="#1a1a1a" stroke-width="1.7"/>
<circle cx="800.9" cy="2082.5" r="6" fill="#1a1a1a" stroke="#1a1a1a" stroke-width="1.7"/>
<circle cx="158.8" cy="2446.5" r="6" fill="#808080" stroke="#1a1a1a" stroke-width="1.7"/>
<circle cx="373.1" cy="2218.9" r="6" fill="#808080" stroke="#1a1a1a" stroke-width="1.7"/>
<circle cx="587.0" cy="2336.5" r="6" fill="#808080" stroke="#1a1a1a" stroke-width="1.7"/>
<circle cx="800.9" cy="2079.5" r="6" fill="#808080" stroke="#1a1a1a" stroke-width="1.7"/>
<circle cx="158.8" cy="2473.9" r="6" fill="#b0b0b0" stroke="#1a1a1a" stroke-width="1.7"/>
<circle cx="373.1" cy="2230.4" r="6" fill="#b0b0b0" stroke="#1a1a1a" stroke-width="1.7"/>
<circle cx="587.0" cy="2336.0" r="6" fill="#b0b0b0" stroke="#1a1a1a" stroke-width="1.7"/>
<circle cx="800.9" cy="2079.1" r="6" fill="#b0b0b0" stroke="#1a1a1a" stroke-width="1.7"/>
<circle cx="158.8" cy="2520.3" r="6" fill="#d2d2d2" stroke="#1a1a1a" stroke-width="1.7"/>
<circle cx="373.1" cy="2246.3" r="6" fill="#d2d2d2" stroke="#1a1a1a" stroke-width="1.7"/>
<circle cx="587.0" cy="2335.5" r="6" fill="#d2d2d2" stroke="#1a1a1a" stroke-width="1.7"/>
<circle cx="800.9" cy="2099.6" r="6" fill="#d2d2d2" stroke="#1a1a1a" stroke-width="1.7"/>
<circle cx="158.8" cy="2557.6" r="6" fill="#f6f6f6" stroke="#1a1a1a" stroke-width="1.7"/>
<circle cx="373.1" cy="2289.6" r="6" fill="#f6f6f6" stroke="#1a1a1a" stroke-width="1.7"/>
<circle cx="587.0" cy="2335.0" r="6" fill="#f6f6f6" stroke="#1a1a1a" stroke-width="1.7"/>
<circle cx="800.9" cy="2170.6" r="6" fill="#f6f6f6" stroke="#1a1a1a" stroke-width="1.7"/>
<rect x="616" y="2424.7" width="208" height="147.3" rx="4" fill="#fff" stroke="#dddddd" stroke-width="3.3"/>
<circle cx="643.6" cy="2440.2" r="6" fill="#1a1a1a" stroke="#1a1a1a" stroke-width="1.7"/>
<text x="678.6" y="2447.4" font-size="19.9" fill="#444">All features</text>
<circle cx="643.6" cy="2468.4" r="6" fill="#808080" stroke="#1a1a1a" stroke-width="1.7"/>
<text x="678.6" y="2475.6" font-size="19.9" fill="#444">Top 20 features</text>
<circle cx="643.6" cy="2496.6" r="6" fill="#b0b0b0" stroke="#1a1a1a" stroke-width="1.7"/>
<text x="678.6" y="2503.8" font-size="19.9" fill="#444">Top 15 features</text>
<circle cx="643.6" cy="2524.8" r="6" fill="#d2d2d2" stroke="#1a1a1a" stroke-width="1.7"/>
<text x="678.6" y="2532.0" font-size="19.9" fill="#444">Top 10 features</text>
<circle cx="643.6" cy="2553.0" r="6" fill="#f6f6f6" stroke="#1a1a1a" stroke-width="1.7"/>
<text x="678.6" y="2560.2" font-size="19.9" fill="#444">Top 5 features</text>
</g>
<g id="panel-i">
<text x="1244.9" y="2047.9" font-size="40.6" fill="#231f20">i</text>
<g transform="translate(1702 2008.9) scale(0.975 1)"><text x="0.0" y="0.0" font-size="25" text-anchor="middle" font-family='"DejaVu Sans", sans-serif' fill="#222">Combined MIBI &amp; RNA multivariate model accuracy</text></g>
<path d="M1362.2 2019 V2583.9 H2042.4" fill="none" stroke="#222" stroke-width="3" stroke-linecap="square"/>
<line x1="1354.6" y1="2583.9" x2="1362.2" y2="2583.9" stroke="#222" stroke-width="2.8"/>
<g transform="translate(1347.6 2591.9) scale(0.975 1)"><text x="0.0" y="0.7" font-size="20.83" text-anchor="end" font-family='"DejaVu Sans", sans-serif' fill="#222">0.0</text></g>
<line x1="1354.6" y1="2471.2" x2="1362.2" y2="2471.2" stroke="#222" stroke-width="2.8"/>
<g transform="translate(1347.6 2479.2) scale(0.975 1)"><text x="0.0" y="0.7" font-size="20.83" text-anchor="end" font-family='"DejaVu Sans", sans-serif' fill="#222">0.2</text></g>
<line x1="1354.6" y1="2358.5" x2="1362.2" y2="2358.5" stroke="#222" stroke-width="2.8"/>
<g transform="translate(1347.6 2366.5) scale(0.975 1)"><text x="0.0" y="0.7" font-size="20.83" text-anchor="end" font-family='"DejaVu Sans", sans-serif' fill="#222">0.4</text></g>
<line x1="1354.6" y1="2245.8" x2="1362.2" y2="2245.8" stroke="#222" stroke-width="2.8"/>
<g transform="translate(1347.6 2253.8) scale(0.975 1)"><text x="0.0" y="0.7" font-size="20.83" text-anchor="end" font-family='"DejaVu Sans", sans-serif' fill="#222">0.6</text></g>
<line x1="1354.6" y1="2133.1" x2="1362.2" y2="2133.1" stroke="#222" stroke-width="2.8"/>
<g transform="translate(1347.6 2141.1) scale(0.975 1)"><text x="0.0" y="0.7" font-size="20.83" text-anchor="end" font-family='"DejaVu Sans", sans-serif' fill="#222">0.8</text></g>
<line x1="1354.6" y1="2020.4" x2="1362.2" y2="2020.4" stroke="#222" stroke-width="2.8"/>
<g transform="translate(1347.6 2028.4) scale(0.975 1)"><text x="0.0" y="0.7" font-size="20.83" text-anchor="end" font-family='"DejaVu Sans", sans-serif' fill="#222">1.0</text></g>
<text x="1304.1" y="2302.2" font-size="20.5" text-anchor="middle" font-family='"DejaVu Sans", sans-serif' fill="#222" transform="rotate(-90 1304.1 2302.2)">AUC</text>
<line x1="1475.7" y1="2583.9" x2="1475.7" y2="2591.9" stroke="#222" stroke-width="2.8"/>
<text x="1479.9" y="2640.4" font-size="20.5" text-anchor="middle" font-family='"DejaVu Sans", sans-serif' fill="#222" transform="rotate(-45 1479.9 2640.4)">Baseline</text>
<line x1="1475.7" y1="2172.7" x2="1475.7" y2="2321.9" stroke="#656b6f" stroke-width="3.6"/>
<line x1="1439.7" y1="2172.7" x2="1511.7" y2="2172.7" stroke="#656b6f" stroke-width="3.6"/>
<line x1="1439.7" y1="2321.9" x2="1511.7" y2="2321.9" stroke="#656b6f" stroke-width="3.6"/>
<rect x="1407.1" y="2226.9" width="137.2" height="68.8" fill="#bb6b2f" stroke="#656b6f" stroke-width="3.6"/>
<line x1="1407.1" y1="2245.6" x2="1544.3" y2="2245.6" stroke="#656b6f" stroke-width="3.6"/>
<line x1="1702.3" y1="2583.9" x2="1702.3" y2="2591.9" stroke="#222" stroke-width="2.8"/>
<text x="1706.5" y="2640.4" font-size="20.5" text-anchor="middle" font-family='"DejaVu Sans", sans-serif' fill="#222" transform="rotate(-45 1706.5 2640.4)">Pre nivo</text>
<line x1="1702.3" y1="2214.7" x2="1702.3" y2="2311.9" stroke="#656b6f" stroke-width="3.6"/>
<line x1="1666.3" y1="2214.7" x2="1738.3" y2="2214.7" stroke="#656b6f" stroke-width="3.6"/>
<line x1="1666.3" y1="2311.9" x2="1738.3" y2="2311.9" stroke="#656b6f" stroke-width="3.6"/>
<rect x="1633.7" y="2232.0" width="137.2" height="49.5" fill="#bb6b2f" stroke="#656b6f" stroke-width="3.6"/>
<line x1="1633.7" y1="2259.6" x2="1770.9" y2="2259.6" stroke="#656b6f" stroke-width="3.6"/>
<line x1="1929.0" y1="2583.9" x2="1929.0" y2="2591.9" stroke="#222" stroke-width="2.8"/>
<text x="1933.2" y="2640.4" font-size="20.5" text-anchor="middle" font-family='"DejaVu Sans", sans-serif' fill="#222" transform="rotate(-45 1933.2 2640.4)">On nivo</text>
<line x1="1929.0" y1="2050.0" x2="1929.0" y2="2260.8" stroke="#656b6f" stroke-width="3.6"/>
<line x1="1893.0" y1="2050.0" x2="1965.0" y2="2050.0" stroke="#656b6f" stroke-width="3.6"/>
<line x1="1893.0" y1="2260.8" x2="1965.0" y2="2260.8" stroke="#656b6f" stroke-width="3.6"/>
<rect x="1860.4" y="2103.9" width="137.2" height="65.7" fill="#bb6b2f" stroke="#656b6f" stroke-width="3.6"/>
<line x1="1860.4" y1="2121.0" x2="1997.6" y2="2121.0" stroke="#656b6f" stroke-width="3.6"/>
<circle cx="1467.0" cy="2172.7" r="5.2" fill="#d2691e"/>
<circle cx="1484.7" cy="2218.8" r="5.2" fill="#d2691e"/>
<circle cx="1472.3" cy="2223.2" r="5.2" fill="#d2691e"/>
<circle cx="1487.2" cy="2239.4" r="5.2" fill="#d2691e"/>
<circle cx="1460.5" cy="2245.6" r="5.2" fill="#d2691e"/>
<circle cx="1482.9" cy="2277.0" r="5.2" fill="#d2691e"/>
<circle cx="1479.1" cy="2302.0" r="5.2" fill="#d2691e"/>
<circle cx="1482.9" cy="2303.5" r="5.2" fill="#d2691e"/>
<circle cx="1458.9" cy="2321.6" r="5.2" fill="#d2691e"/>
<circle cx="1685.6" cy="2214.4" r="5.2" fill="#d2691e"/>
<circle cx="1708.0" cy="2216.0" r="5.2" fill="#d2691e"/>
<circle cx="1682.5" cy="2232.8" r="5.2" fill="#d2691e"/>
<circle cx="1698.1" cy="2233.1" r="5.2" fill="#d2691e"/>
<circle cx="1686.5" cy="2251.8" r="5.2" fill="#d2691e"/>
<circle cx="1706.8" cy="2267.4" r="5.2" fill="#d2691e"/>
<circle cx="1690.9" cy="2281.7" r="5.2" fill="#d2691e"/>
<circle cx="1699.3" cy="2280.8" r="5.2" fill="#d2691e"/>
<circle cx="1695.6" cy="2300.4" r="5.2" fill="#d2691e"/>
<circle cx="1711.8" cy="2312.2" r="5.2" fill="#d2691e"/>
<circle cx="1914.4" cy="2050.0" r="5.2" fill="#d2691e"/>
<circle cx="1949.9" cy="2088.3" r="5.2" fill="#d2691e"/>
<circle cx="1908.8" cy="2102.6" r="5.2" fill="#d2691e"/>
<circle cx="1945.8" cy="2107.9" r="5.2" fill="#d2691e"/>
<circle cx="1908.8" cy="2134.1" r="5.2" fill="#d2691e"/>
<circle cx="1924.7" cy="2132.8" r="5.2" fill="#d2691e"/>
<circle cx="1937.7" cy="2181.1" r="5.2" fill="#d2691e"/>
<circle cx="1939.6" cy="2200.7" r="5.2" fill="#d2691e"/>
<circle cx="1932.8" cy="2260.8" r="5.2" fill="#d2691e"/>
</g>
</svg>
</body>
</html>
